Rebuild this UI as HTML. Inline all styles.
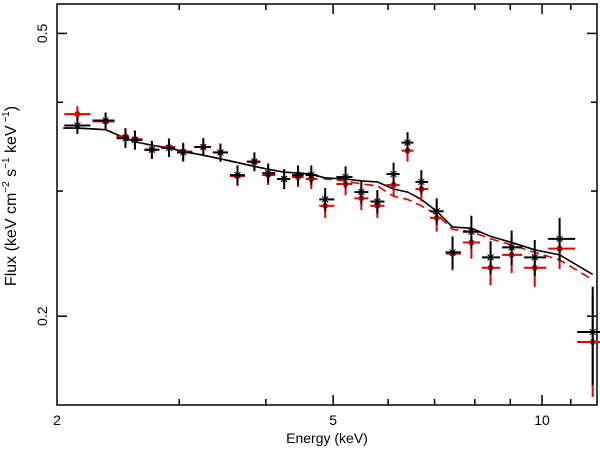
<!DOCTYPE html>
<html><head><meta charset="utf-8"><style>
html,body{margin:0;padding:0;background:#fff;}
svg{display:block;font-family:"Liberation Sans",sans-serif;}
</style></head><body>
<svg id="chart" width="600" height="450" viewBox="0 0 600 450">
<rect x="57" y="4" width="540" height="401" fill="none" stroke="#000" stroke-width="1.5"/>
<g id="ticks"></g>
<g id="marks"></g>
<text x="327" y="443" text-anchor="middle" font-size="14">Energy (keV)</text>
<text transform="translate(16,196) rotate(-90)" text-anchor="middle" font-size="16">Flux (keV cm<tspan font-size="10" dy="-7">−2</tspan><tspan dy="7">  s</tspan><tspan font-size="10" dy="-7">−1</tspan><tspan dy="7">  keV</tspan><tspan font-size="10" dy="-7"> −1</tspan><tspan dy="7">)</tspan></text>
</svg>
<script>
const energies=[2.14,2.35,2.51,2.59,2.74,2.90,3.04,3.25,3.44,3.64,3.85,4.03,4.25,4.45,4.65,4.87,5.21,5.49,5.79,6.11,6.40,6.70,7.05,7.43,7.91,8.43,9.04,9.76,10.60,11.83];
const blackFlux=[0.371,0.377,0.356,0.354,0.343,0.345,0.340,0.346,0.340,0.316,0.330,0.318,0.312,0.316,0.316,0.292,0.314,0.299,0.290,0.317,0.351,0.309,0.281,0.246,0.263,0.242,0.250,0.242,0.257,0.190];
const redFlux=[0.385,0.376,0.358,0.355,0.343,0.346,0.341,0.346,0.340,0.315,0.330,0.316,0.312,0.314,0.312,0.286,0.307,0.293,0.286,0.306,0.342,0.302,0.275,0.245,0.254,0.234,0.244,0.234,0.249,0.184];
const blackErr=[0.010,0.010,0.011,0.011,0.010,0.010,0.010,0.010,0.010,0.010,0.010,0.010,0.010,0.010,0.010,0.011,0.011,0.011,0.011,0.012,0.012,0.012,0.012,0.013,0.014,0.013,0.014,0.014,0.018,0.030];
const redErr=[0.010,0.010,0.010,0.010,0.010,0.010,0.010,0.010,0.010,0.010,0.010,0.010,0.010,0.010,0.010,0.011,0.011,0.011,0.011,0.011,0.012,0.012,0.012,0.013,0.013,0.013,0.014,0.014,0.016,0.030];
const blackModel=[0.368,0.366,0.356,0.352,0.348,0.345,0.341,0.337,0.333,0.329,0.325,0.322,0.319,0.318,0.317,0.313,0.312,0.310,0.309,0.302,0.299,0.292,0.281,0.267,0.266,0.259,0.254,0.248,0.244,0.229];
const redModel=[0.368,0.366,0.356,0.352,0.348,0.345,0.341,0.337,0.333,0.329,0.325,0.322,0.319,0.318,0.317,0.312,0.310,0.307,0.305,0.295,0.292,0.286,0.278,0.265,0.263,0.257,0.252,0.246,0.240,0.225];
const xTicks=[2,3,4,5,6,7,8,9,10,11,12];
const xLabels=["2","5","10"];
const yTicks=[0.2,0.3,0.4,0.5];
const yLabels=["0.2","0.5"];

const X0=57,X1=597,Y0=4,Y1=405,XMIN=2,XMAX=12.0,YMIN=0.15,YMAX=0.55;
function sx(e){return X0+(X1-X0)*Math.log(e/XMIN)/Math.log(XMAX/XMIN);}
function sy(f){return Y1-(Y1-Y0)*Math.log(f/YMIN)/Math.log(YMAX/YMIN);}
const NS='http://www.w3.org/2000/svg';
function mk(tag,attrs,parent){const el=document.createElementNS(NS,tag);for(const k in attrs)el.setAttribute(k,attrs[k]);parent.appendChild(el);return el;}
const T=document.getElementById('ticks'),M=document.getElementById('marks');
xTicks.forEach(v=>{if(v<=XMIN||v>=XMAX)return;const x=sx(v);const big=xLabels.includes(String(v));
 const t1=mk('line',{x1:x,x2:x,y1:Y1,y2:Y1-(big?10:6),stroke:'#000','stroke-width':1.5},T);
 
 
 const t2=mk('line',{x1:x,x2:x,y1:Y0,y2:Y0+(big?10:6),stroke:'#000','stroke-width':1.5},T);
 
 });
xLabels.forEach(s=>{const t=mk('text',{x:sx(+s),y:425,'text-anchor':'middle','font-size':14},T);t.textContent=s;
 
 });
yTicks.forEach(v=>{const y=sy(v);const big=yLabels.includes(String(v));
 const t1=mk('line',{x1:X0,x2:X0+(big?10:6),y1:y,y2:y,stroke:'#000','stroke-width':1.5},T);
 
 
 const t2=mk('line',{x1:X1,x2:X1-(big?10:6),y1:y,y2:y,stroke:'#000','stroke-width':1.5},T);
 
 });
yLabels.forEach(s=>{const y=sy(+s);const t=mk('text',{transform:`translate(47,${y}) rotate(-90)`,'text-anchor':'middle','font-size':14},T);t.textContent=s;
 
 });
const edges=[];
for(let i=0;i<=energies.length;i++){
 if(i==0)edges.push(energies[0]*energies[0]/Math.sqrt(energies[0]*energies[1]));
 else if(i==energies.length){const n=energies.length;edges.push(energies[n-1]*energies[n-1]/Math.sqrt(energies[n-1]*energies[n-2]));}
 else edges.push(Math.sqrt(energies[i-1]*energies[i]));}
function modelLine(vals,color,dash,name){
 let d='M'+sx(edges[0])+','+sy(vals[0]);
 energies.forEach((e,i)=>{d+=' L'+sx(e)+','+sy(vals[i]);});
 const p=mk('path',{d:d,fill:'none',stroke:color,'stroke-width':1.6,'stroke-dasharray':dash},M);
 
 }
modelLine(redModel,'#e00000','9,5','model-red');
modelLine(blackModel,'#000','none','model-black');
function points(vals,errs,color,name,dot){
 energies.forEach((e,i)=>{const g=mk('g',{},M);
  
  
  const x=sx(e),y=sy(vals[i]);
  mk('line',{x1:sx(edges[i])+1,x2:sx(edges[i+1])-1,y1:y,y2:y,stroke:color,'stroke-width':2},g);
  mk('line',{x1:x,x2:x,y1:sy(vals[i]+errs[i]),y2:sy(vals[i]-errs[i]),stroke:color,'stroke-width':2},g);
  if(dot)mk('circle',{cx:x,cy:y,r:3,fill:color},g);
  else mk('path',{d:`M${x-3},${y-3}L${x+3},${y+3}M${x-3},${y+3}L${x+3},${y-3}`,stroke:color,'stroke-width':1},g);});}
points(redFlux,redErr,'#e00000','red-data-point',true);
points(blackFlux,blackErr,'#000','black-data-point',false);
</script>
</body></html>
